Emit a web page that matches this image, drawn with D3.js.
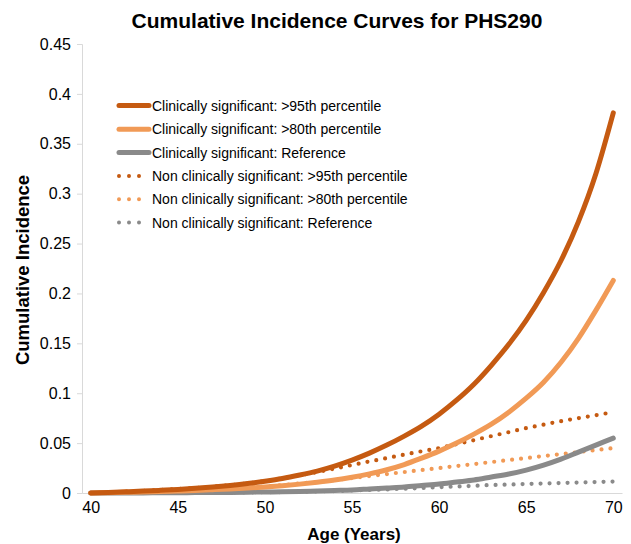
<!DOCTYPE html>
<html>
<head>
<meta charset="utf-8">
<script src="https://cdn.jsdelivr.net/npm/d3@7"></script>
<style>
  html, body { margin: 0; padding: 0; background: #fff; }
  svg { display: block; font-family: "Liberation Sans", Arial, sans-serif; }
</style>
</head>
<body>
<svg id="chart" width="631" height="544"></svg>
<script>
const ages = d3.range(40, 71);
const xTicks = [40, 45, 50, 55, 60, 65, 70];
const yTicks = [0, 0.05, 0.1, 0.15, 0.2, 0.25, 0.3, 0.35, 0.4, 0.45];

const seriesNames = [
  "Clinically significant: >95th percentile",
  "Clinically significant: >80th percentile",
  "Clinically significant: Reference",
  "Non clinically significant: >95th percentile",
  "Non clinically significant: >80th percentile",
  "Non clinically significant: Reference"
];

const cs95 = [0, 0.0006, 0.0012, 0.0019, 0.0027, 0.0036, 0.0047, 0.006, 0.0076, 0.0095, 0.0118, 0.0145, 0.018, 0.022, 0.027, 0.033, 0.040, 0.048, 0.057, 0.067, 0.079, 0.093, 0.109, 0.128, 0.149, 0.173, 0.201, 0.233, 0.272, 0.320, 0.381];
const cs80 = [0, 0.0003, 0.0007, 0.001, 0.0015, 0.002, 0.0026, 0.0033, 0.0041, 0.005, 0.006, 0.0073, 0.0089, 0.0108, 0.013, 0.0158, 0.0192, 0.0233, 0.0285, 0.035, 0.042, 0.050, 0.059, 0.069, 0.081, 0.095, 0.111, 0.131, 0.155, 0.183, 0.213];
const csRef = [0, 0, 0.0001, 0.0001, 0.0002, 0.0003, 0.0004, 0.0005, 0.0006, 0.0008, 0.001, 0.0012, 0.0015, 0.002, 0.0025, 0.003, 0.004, 0.005, 0.006, 0.0075, 0.009, 0.011, 0.013, 0.016, 0.019, 0.023, 0.028, 0.034, 0.041, 0.048, 0.055];
const ncs95 = [0, 0.0006, 0.0013, 0.002, 0.003, 0.004, 0.005, 0.0063, 0.0078, 0.0097, 0.012, 0.0148, 0.0178, 0.021, 0.0245, 0.028, 0.0316, 0.035, 0.0385, 0.0418, 0.045, 0.049, 0.053, 0.057, 0.061, 0.065, 0.0685, 0.072, 0.075, 0.078, 0.081];
const ncs80 = [0, 0.0002, 0.0005, 0.0008, 0.0012, 0.0018, 0.0025, 0.0033, 0.0042, 0.0053, 0.0065, 0.008, 0.0095, 0.011, 0.013, 0.015, 0.017, 0.019, 0.021, 0.023, 0.025, 0.027, 0.029, 0.031, 0.033, 0.035, 0.037, 0.039, 0.041, 0.043, 0.045];
const ncsRef = [0, 0, 0, 0.0001, 0.0001, 0.0002, 0.0003, 0.0004, 0.0005, 0.0006, 0.0008, 0.001, 0.0012, 0.0016, 0.002, 0.0025, 0.003, 0.0036, 0.0043, 0.005, 0.0058, 0.0065, 0.0072, 0.008, 0.0085, 0.009, 0.0095, 0.010, 0.0105, 0.011, 0.0115];

const seriesValues = [cs95, cs80, csRef, ncs95, ncs80, ncsRef];
const colors = ["#C55A11", "#F19A56", "#8A8A8A", "#C55A11", "#F19A56", "#8A8A8A"];
const dotted = [false, false, false, true, true, true];

const svg = d3.select("#chart");
const x = d3.scaleLinear().domain([39.5, 70.5]).range([82, 622]);
const y = d3.scaleLinear().domain([0, 0.45]).range([493, 44]);

// Title
svg.append("text")
  .attr("x", 337).attr("y", 28)
  .attr("text-anchor", "middle")
  .attr("font-size", 21).attr("font-weight", "bold")
  .attr("fill", "#000")
  .text("Cumulative Incidence Curves for PHS290");

// Y axis
const yAxis = svg.append("g")
  .attr("transform", `translate(${x.range()[0]},0)`)
  .call(d3.axisLeft(y).tickValues(yTicks).tickSize(5).tickPadding(6)
    .tickFormat(d => d3.format("")(+d.toFixed(2))));
yAxis.select(".domain").attr("stroke", "#D9D9D9");
yAxis.selectAll(".tick line").attr("stroke", "#D9D9D9");
yAxis.selectAll(".tick text").attr("font-size", 16).attr("fill", "#000")
  .attr("font-family", "'Liberation Sans', Arial, sans-serif");

// X axis
const xAxis = svg.append("g")
  .attr("transform", `translate(0,${y(0)})`)
  .call(d3.axisBottom(x).tickValues(xTicks).tickSize(0).tickPadding(9).tickSizeOuter(0));
xAxis.select(".domain").attr("stroke", "#D9D9D9");
xAxis.selectAll(".tick text").attr("font-size", 16).attr("fill", "#000")
  .attr("font-family", "'Liberation Sans', Arial, sans-serif");

// Axis titles
svg.append("text")
  .attr("transform", "translate(29,270) rotate(-90)")
  .attr("text-anchor", "middle")
  .attr("font-size", 18.5).attr("font-weight", "bold")
  .text("Cumulative Incidence");
svg.append("text")
  .attr("x", 354).attr("y", 540)
  .attr("text-anchor", "middle")
  .attr("font-size", 17).attr("font-weight", "bold")
  .text("Age (Years)");

// Lines
const line = d3.line().x((d, i) => x(ages[i])).y(d => y(d)).curve(d3.curveMonotoneX);
const drawOrder = [5, 4, 3, 2, 1, 0];
drawOrder.forEach(k => {
  const p = svg.append("path")
    .datum(seriesValues[k])
    .attr("d", line)
    .attr("fill", "none")
    .attr("stroke", colors[k])
    .attr("stroke-linecap", "round")
    .attr("stroke-linejoin", "round");
  if (dotted[k]) {
    p.attr("stroke-width", 4.2).attr("stroke-dasharray", "0 9");
  } else {
    p.attr("stroke-width", 5);
  }
});

// Legend
const legY = [105.5, 129.3, 152.5, 176, 199.2, 222.5];
const leg = svg.append("g");
seriesNames.forEach((name, k) => {
  const g = leg.append("g").attr("transform", `translate(0,${legY[k]})`);
  const ln = g.append("line")
    .attr("x1", 119).attr("x2", 149).attr("y1", 0).attr("y2", 0)
    .attr("stroke", colors[k]).attr("stroke-linecap", "round");
  if (dotted[k]) ln.attr("stroke-width", 4).attr("stroke-dasharray", "0 10");
  else ln.attr("stroke-width", 5);
  g.append("text")
    .attr("x", 152).attr("y", 5)
    .attr("font-size", 14).attr("fill", "#000")
    .text(name);
});
</script>
</body>
</html>
